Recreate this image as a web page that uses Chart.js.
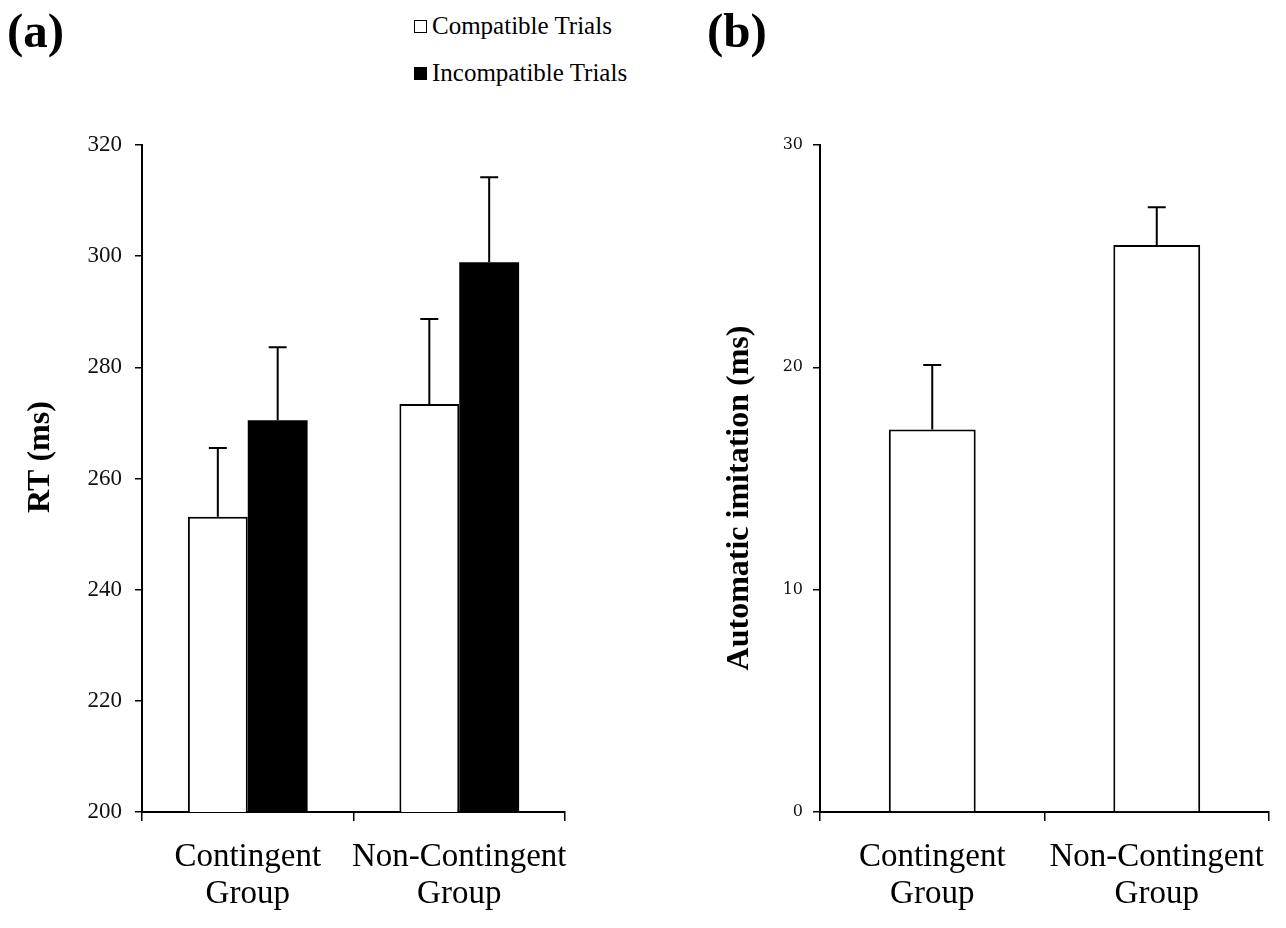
<!DOCTYPE html>
<html>
<head>
<meta charset="utf-8">
<script src="https://cdn.jsdelivr.net/npm/chart.js@4.4.1/dist/chart.umd.min.js"></script>
<style>
  body { margin:0; background:#fff; width:1286px; height:928px; position:relative; overflow:hidden; font-family:"Liberation Serif", "Times New Roman", serif; }
  .panel-label { position:absolute; top:2px; font-size:49px; font-weight:bold; color:#000; }
  .legend { position:absolute; left:414px; font-size:25px; color:#000; display:flex; align-items:center; }
  .legend .box { width:11px; height:11px; border:1.5px solid #000; margin-right:5px; }
  canvas { position:absolute; top:0; }
</style>
</head>
<body>
<div class="panel-label" style="left:7px">(a)</div>
<div class="panel-label" style="left:707px">(b)</div>
<div class="legend" style="top:12px"><span class="box" style="background:#fff"></span>Compatible Trials</div>
<div class="legend" style="top:59px"><span class="box" style="background:#000"></span>Incompatible Trials</div>

<canvas id="rtChart" width="640" height="928" style="left:0"></canvas>
<canvas id="imitChart" width="643" height="928" style="left:643px"></canvas>

<script>
// values
const groups = [['Contingent', 'Group'], ['Non-Contingent', 'Group']];
const compatibleRT = [253.1, 273.4];
const compatibleErr = [12.4, 15.3];
const incompatibleRT = [270.5, 298.9];
const incompatibleErr = [13.1, 15.3];
const imitation = [17.2, 25.5];
const imitationErr = [2.9, 1.7];
const rtRange = [200, 320, 20];
const imitRange = [0, 30, 10];

const serif = '"Liberation Serif", "Times New Roman", serif';

// one-sided error bars (upper whisker + cap)
const errorBars = {
  id: 'errorBars',
  afterDatasetsDraw(chart) {
    const { ctx } = chart;
    const y = chart.scales.y;
    chart.data.datasets.forEach((ds, i) => {
      if (!ds.errors) return;
      chart.getDatasetMeta(i).data.forEach((bar, j) => {
        const top = y.getPixelForValue(ds.data[j] + ds.errors[j]);
        ctx.save();
        ctx.strokeStyle = '#000';
        ctx.lineWidth = 2;
        ctx.beginPath();
        ctx.moveTo(bar.x, bar.y);
        ctx.lineTo(bar.x, top);
        ctx.moveTo(bar.x - 9, top);
        ctx.lineTo(bar.x + 9, top);
        ctx.stroke();
        ctx.restore();
      });
    });
  }
};

// rotated y-axis title, placed a bit off the axis centre like the original
const yTitle = {
  id: 'yTitle',
  afterDraw(chart, args, opts) {
    const { ctx } = chart;
    ctx.save();
    ctx.translate(opts.x, opts.y);
    ctx.rotate(-Math.PI / 2);
    ctx.font = 'bold 32px ' + serif;
    ctx.fillStyle = '#000';
    ctx.textAlign = 'center';
    ctx.textBaseline = 'middle';
    ctx.fillText(opts.text, 0, 0);
    ctx.restore();
  }
};

function axes(range, yFont, tickPad, yAxisWidth) {
  return {
    x: {
      grid: { display: true, drawOnChartArea: false, drawTicks: true, tickLength: 9, color: '#000', lineWidth: 1.5 },
      border: { display: true, color: '#000', width: 2 },
      ticks: { color: '#000', padding: 18, maxRotation: 0, autoSkip: false, font: { family: serif, size: 33, lineHeight: 1.12 } },
      afterFit: a => { a.height = 116; }
    },
    y: {
      min: range[0], max: range[1],
      grid: { display: true, drawOnChartArea: false, drawTicks: true, tickLength: 7, color: '#000', lineWidth: 1.5 },
      border: { display: true, color: '#000', width: 2 },
      ticks: { stepSize: range[2], color: '#111', padding: tickPad, font: yFont },
      afterFit: a => { a.width = yAxisWidth; }
    }
  };
}

const common = {
  responsive: false,
  animation: false
};

new Chart(document.getElementById('rtChart'), {
  type: 'bar',
  data: {
    labels: groups,
    datasets: [
      { label: 'Compatible Trials', data: compatibleRT, errors: compatibleErr, backgroundColor: '#fff', borderColor: '#000', borderWidth: 2, barPercentage: 1, categoryPercentage: 0.566 },
      { label: 'Incompatible Trials', data: incompatibleRT, errors: incompatibleErr, backgroundColor: '#000', borderColor: '#000', borderWidth: 0, barPercentage: 1, categoryPercentage: 0.566 }
    ]
  },
  options: {
    ...common,
    layout: { padding: { top: 145, left: 0, right: 75, bottom: 0 } },
    plugins: { legend: { display: false }, tooltip: { enabled: false }, yTitle: { text: 'RT (ms)', x: 41, y: 457 } },
    scales: axes(rtRange, { family: serif, size: 23 }, 13, 142)
  },
  plugins: [errorBars, yTitle]
});

new Chart(document.getElementById('imitChart'), {
  type: 'bar',
  data: {
    labels: groups,
    datasets: [
      { label: 'Automatic imitation', data: imitation, errors: imitationErr, backgroundColor: '#fff', borderColor: '#000', borderWidth: 2, barPercentage: 1, categoryPercentage: 0.387 }
    ]
  },
  options: {
    ...common,
    layout: { padding: { top: 145, left: 0, right: 16, bottom: 0 } },
    plugins: { legend: { display: false }, tooltip: { enabled: false }, yTitle: { text: 'Automatic imitation (ms)', x: 97, y: 498 } },
    scales: axes(imitRange, { family: '"DejaVu Serif", serif', size: 16 }, 10, 177)
  },
  plugins: [errorBars, yTitle]
});
</script>
</body>
</html>
